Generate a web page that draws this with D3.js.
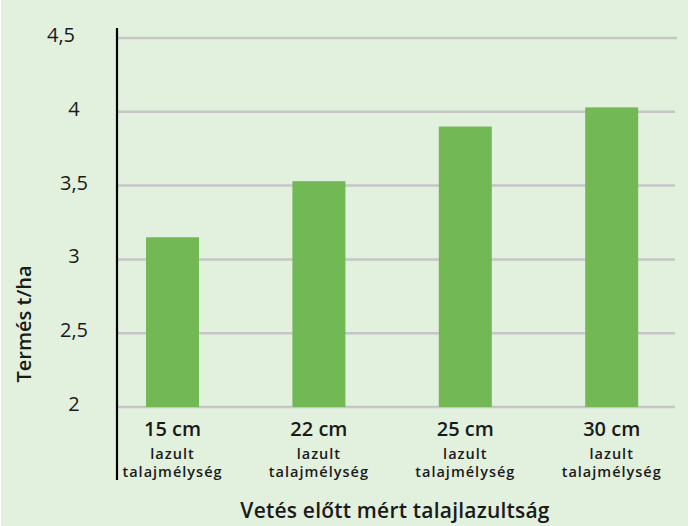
<!DOCTYPE html>
<html>
<head>
<meta charset="utf-8">
<script src="https://cdn.jsdelivr.net/npm/d3@7"></script>
<style>
  body { margin: 0; background: #fff; }
  text { font-family: "Open Sans", sans-serif; fill: #1a1a1a; }
</style>
</head>
<body>
<div id="chart"></div>
<script>
// yield by soil loosening depth
const depths = ["15 cm", "22 cm", "25 cm", "30 cm"];
const yields = [3.15, 3.53, 3.90, 4.03];
const ticks = [2, 2.5, 3, 3.5, 4, 4.5];
const subLines = ["lazult", "talajmélység"];

const w = 691, h = 526;

const svg = d3.select("#chart").append("svg")
  .attr("width", w)
  .attr("height", h);

svg.append("rect")
  .attr("x", 1).attr("y", 0)
  .attr("width", 687).attr("height", h)
  .attr("fill", "#e2f0de");

const y = d3.scaleLinear().domain([2, 4.5]).range([407, 38]);

const x = d3.scaleBand()
  .domain(depths)
  .range([99.3, 684.9])
  .paddingInner(0.638)
  .paddingOuter(0.319);

// gridlines
svg.append("g")
  .selectAll("line")
  .data(ticks)
  .enter().append("line")
    .attr("x1", 118)
    .attr("x2", d => d === 4.5 ? 677 : 675)
    .attr("y1", d => y(d))
    .attr("y2", d => y(d))
    .attr("stroke", "#c6c6c6")
    .attr("stroke-width", 2.5);

// tick labels
svg.append("g")
  .selectAll("text")
  .data(ticks)
  .enter().append("text")
    .attr("x", d => d === 4.5 ? 61 : 74)
    .attr("y", d => y(d) + 4)
    .attr("text-anchor", "middle")
    .attr("font-size", "20px")
    .attr("font-weight", 500)
    .text(d => String(d).replace(".", ","));

// bars
svg.append("g")
  .selectAll("rect")
  .data(yields)
  .enter().append("rect")
    .attr("x", (d, i) => x(depths[i]))
    .attr("y", d => y(d))
    .attr("width", x.bandwidth())
    .attr("height", d => y(2) - y(d))
    .attr("fill", "#72b855");

// y axis line
svg.append("line")
  .attr("x1", 117).attr("x2", 117)
  .attr("y1", 28).attr("y2", 480)
  .attr("stroke", "#000")
  .attr("stroke-width", 2.2);

// category labels
const cat = svg.append("g")
  .selectAll("g")
  .data(depths)
  .enter().append("g")
    .attr("transform", d => `translate(${x(d) + x.bandwidth() / 2},0)`);

cat.append("text")
  .attr("y", 436)
  .attr("text-anchor", "middle")
  .attr("font-size", "20px")
  .attr("font-weight", 600)
  .text(d => d);

subLines.forEach((s, i) => {
  cat.append("text")
    .attr("y", 459 + i * 18)
    .attr("text-anchor", "middle")
    .attr("font-size", "14.5px")
    .attr("font-weight", 600)
    .attr("letter-spacing", "1px")
    .text(s);
});

// axis titles
svg.append("text")
  .attr("transform", "translate(31,324) rotate(-90)")
  .attr("text-anchor", "middle")
  .attr("font-size", "20px")
  .attr("font-weight", 600)
  .text("Termés t/ha");

svg.append("text")
  .attr("x", 395)
  .attr("y", 518)
  .attr("text-anchor", "middle")
  .attr("font-size", "21px")
  .attr("font-weight", 600)
  .attr("letter-spacing", "0.2px")
  .text("Vetés előtt mért talajlazultság");
</script>
</body>
</html>
